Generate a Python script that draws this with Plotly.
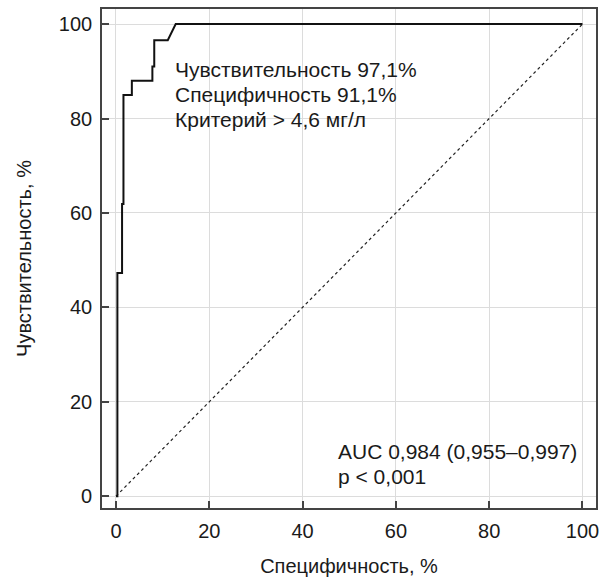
import plotly.graph_objects as go

# ROC curve: 100 - specificity (x) vs sensitivity (y), in percent
fpr = [0.0, 0.3, 0.3, 1.3, 1.3, 1.6, 1.6, 3.4, 3.4, 7.8, 7.8, 8.2, 8.2, 11.1, 12.8, 100.0]
tpr = [0.0, 0.0, 47.3, 47.3, 61.9, 61.9, 85.0, 85.0, 88.0, 88.0, 91.0, 91.0, 96.6, 96.6, 100.0, 100.0]

# reference (chance) line
diag_x = [0, 100]
diag_y = [0, 100]

tick_vals = [0, 20, 40, 60, 80, 100]

criterion_lines = ["Чувствительность 97,1%", "Специфичность 91,1%", "Критерий > 4,6 мг/л"]
criterion_y = [90.3, 85.0, 79.7]
auc_lines = ["AUC 0,984 (0,955–0,997)", "p < 0,001"]
auc_y = [9.4, 4.1]

FONT = "Liberation Sans, Arial, Helvetica, sans-serif"
TXT = "#1a1a1a"

fig = go.Figure()
fig.add_trace(go.Scatter(x=diag_x, y=diag_y, mode="lines",
                         line=dict(color="#222222", width=1.2, dash="dot"),
                         hoverinfo="skip", showlegend=False))
fig.add_trace(go.Scatter(x=fpr, y=tpr, mode="lines",
                         line=dict(color="#111111", width=2),
                         showlegend=False))

for text, yv in zip(criterion_lines, criterion_y):
    fig.add_annotation(x=12.2, y=yv, xref="x", yref="y", xanchor="left", yanchor="middle",
                       showarrow=False, text=text,
                       font=dict(family=FONT, size=21, color=TXT))
for text, yv in zip(auc_lines, auc_y):
    fig.add_annotation(x=47.1, y=yv, xref="x", yref="y", xanchor="left", yanchor="middle",
                       showarrow=False, text=text,
                       font=dict(family=FONT, size=21, color=TXT))

axis_common = dict(
    tickvals=tick_vals,
    showgrid=True, gridcolor="#dcdcdc", gridwidth=1,
    zeroline=False,
    showline=True, linecolor="#444444", linewidth=1.6, mirror=True,
    ticks="inside", ticklen=7, tickwidth=1.6, tickcolor="#444444",
    tickfont=dict(family=FONT, size=20, color=TXT),
)

fig.update_layout(
    width=603, height=578,
    margin=dict(l=102, r=4, t=9, b=70),
    plot_bgcolor="white", paper_bgcolor="white",
    xaxis=dict(range=[-3.0, 102.9], ticklabelstandoff=4,
               title=dict(text="Специфичность, %", font=dict(family=FONT, size=20, color=TXT), standoff=18),
               **axis_common),
    yaxis=dict(range=[-2.5, 103.2], ticklabelstandoff=4,
               title=dict(text="Чувствительность, %", font=dict(family=FONT, size=20, color=TXT), standoff=22),
               **axis_common),
)

fig.write_html("out.html")
